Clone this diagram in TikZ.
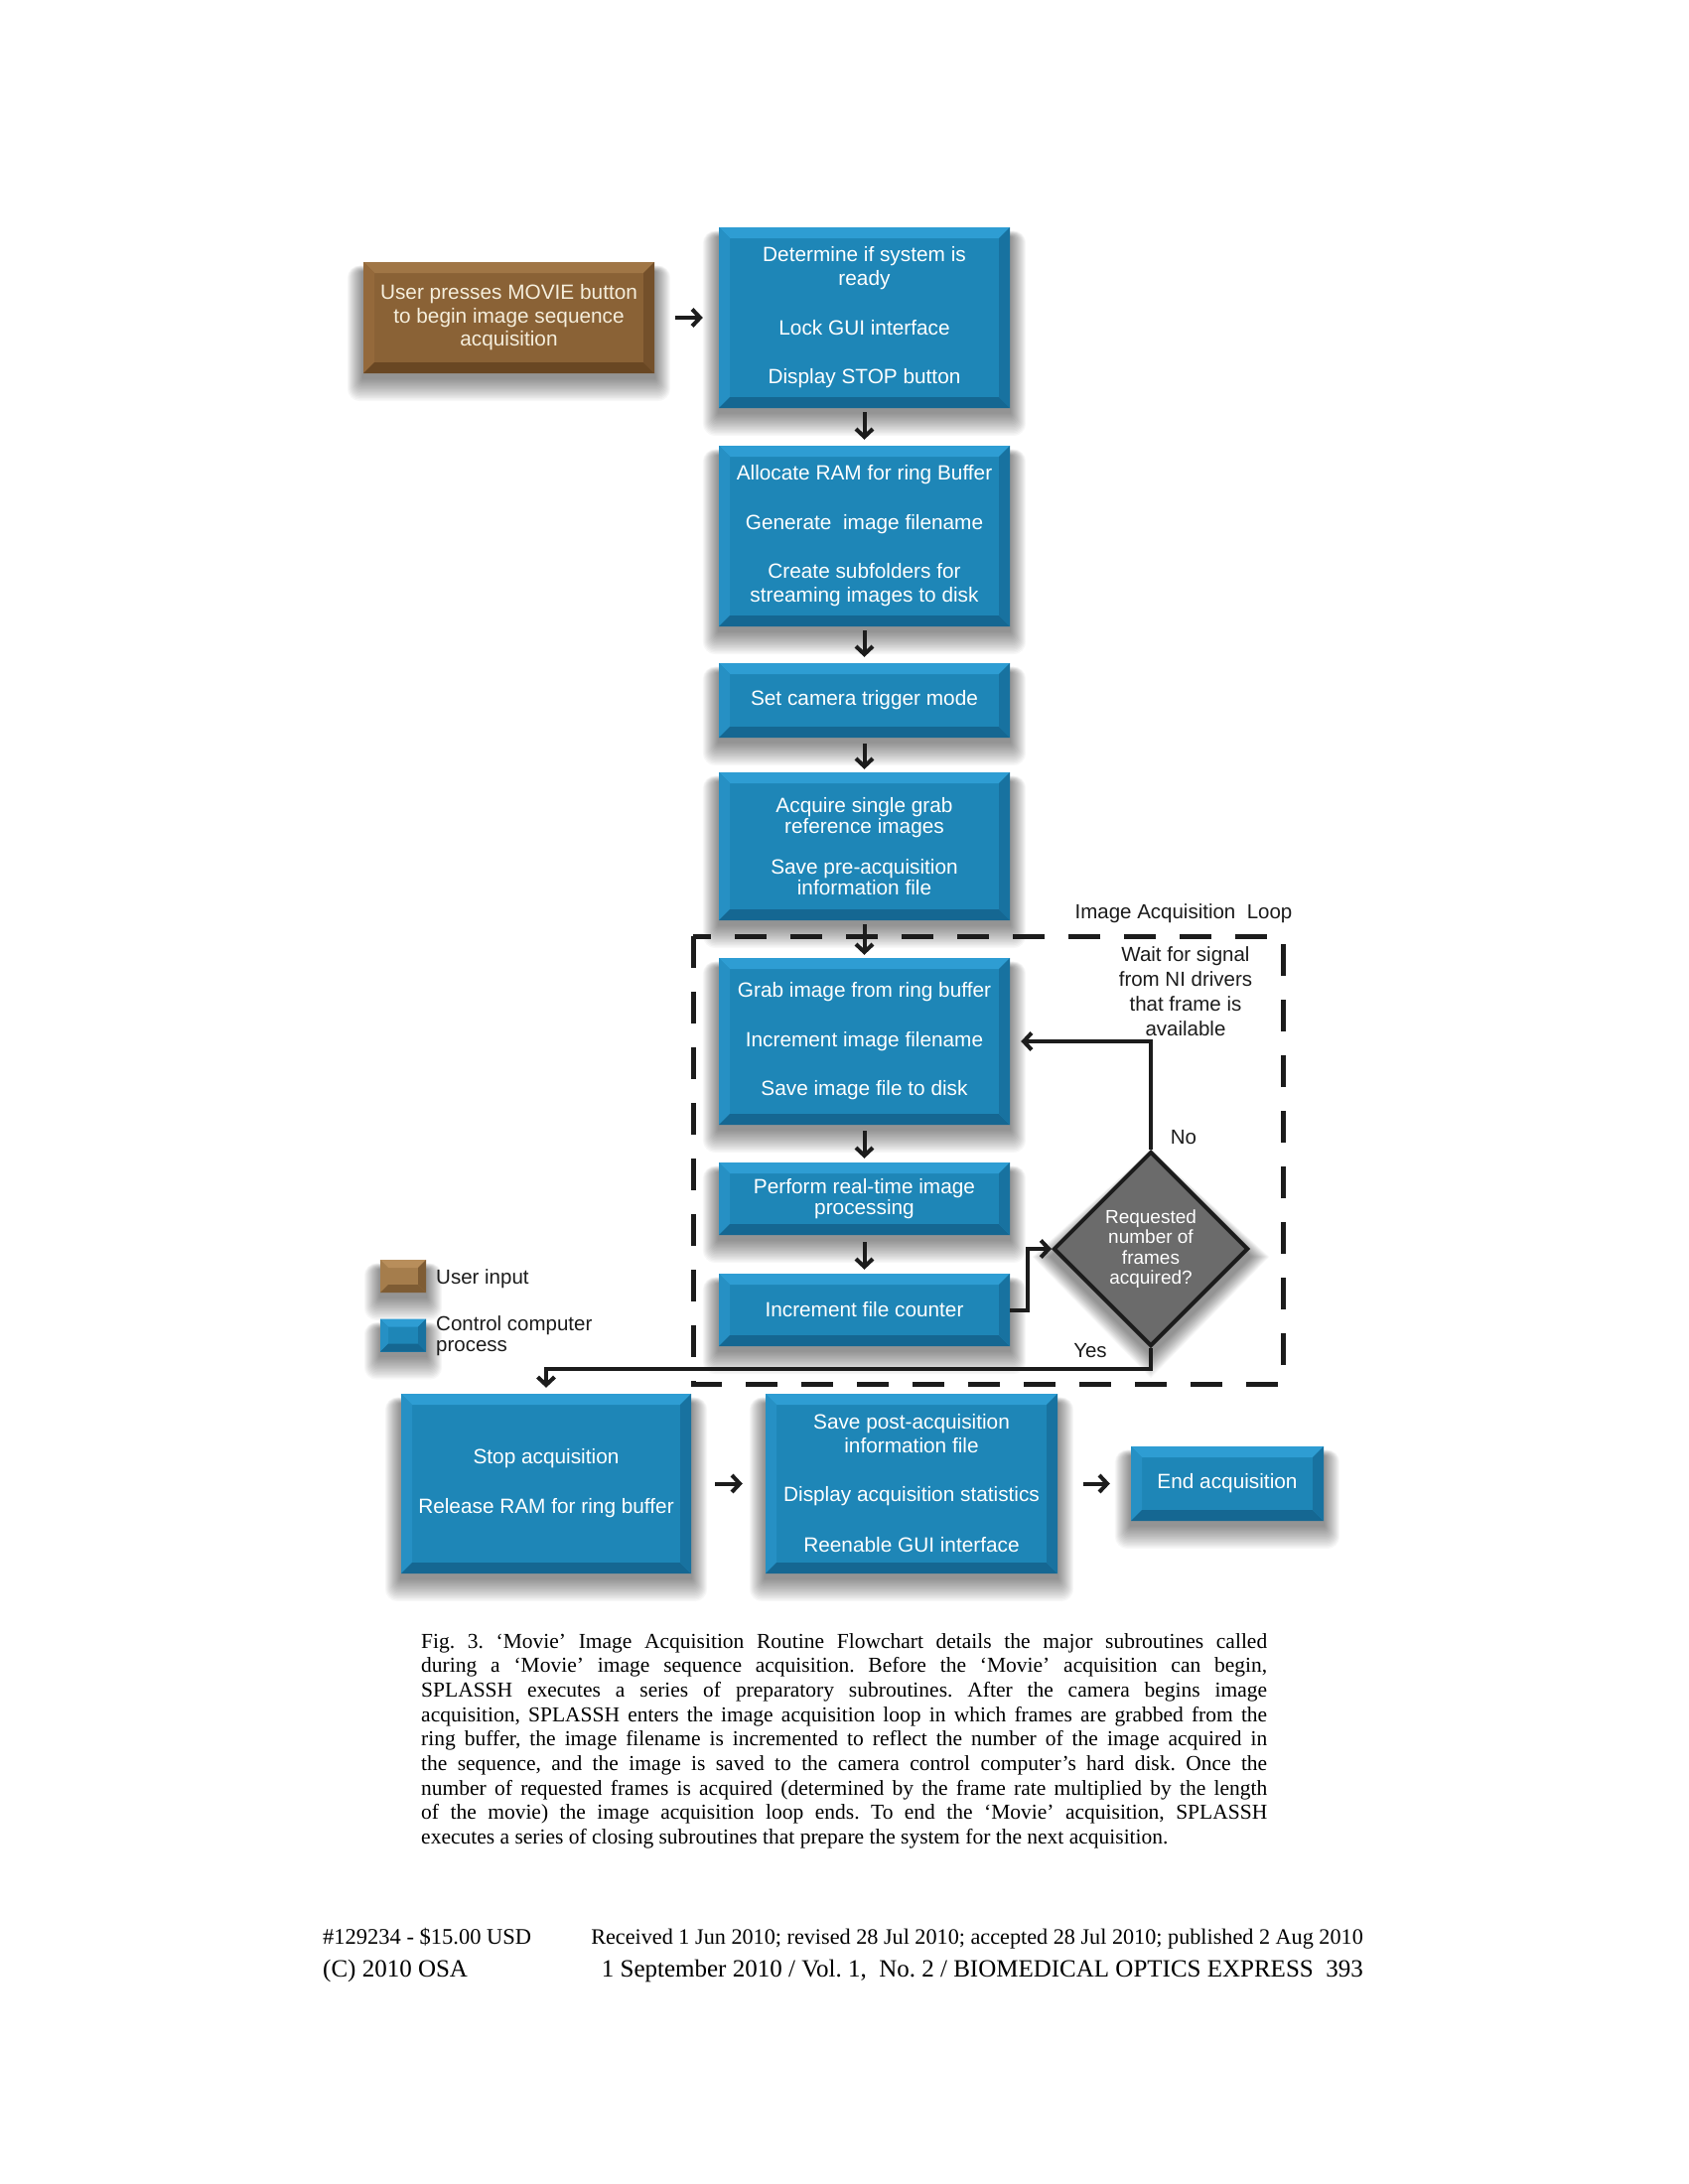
\documentclass[tikz,border=0pt]{standalone}
\usepackage{fontspec}
\setmainfont{Liberation Serif}
\newfontfamily\diafont{Liberation Sans}
\usetikzlibrary{arrows.meta,shapes.geometric,calc}

\pgfdeclarelayer{shadowlayer}
\pgfsetlayers{shadowlayer,main}

% box colours: front face and the four bevel faces
\definecolor{bluefront}{HTML}{1E86B7}
\definecolor{bluetop}{HTML}{2E9DD3}
\definecolor{blueleft}{HTML}{2690C4}
\definecolor{bluebottom}{HTML}{156792}
\definecolor{blueright}{HTML}{1872A0}
\definecolor{brownfront}{HTML}{8A6236}
\definecolor{browntop}{HTML}{A07646}
\definecolor{brownleft}{HTML}{94693B}
\definecolor{brownbottom}{HTML}{694723}
\definecolor{brownright}{HTML}{74502B}
\definecolor{lbrownfront}{HTML}{A57D4C}
\definecolor{lbrowntop}{HTML}{B88E5B}
\definecolor{lbrownbottom}{HTML}{7E5C34}
\definecolor{decgrey}{HTML}{6B6B6B}
\definecolor{ink}{HTML}{1C1C1C}
\definecolor{cream}{HTML}{F5EEDC}

% bevel: width, top, left, bottom, right
\newcommand{\bevelfaces}[5]{%
  \fill[#2] (path picture bounding box.north west) -- (path picture bounding box.north east)
     -- ([xshift=-#1,yshift=-#1]path picture bounding box.north east)
     -- ([xshift=#1,yshift=-#1]path picture bounding box.north west) -- cycle;
  \fill[#3] (path picture bounding box.north west) -- (path picture bounding box.south west)
     -- ([xshift=#1,yshift=#1]path picture bounding box.south west)
     -- ([xshift=#1,yshift=-#1]path picture bounding box.north west) -- cycle;
  \fill[#4] (path picture bounding box.south west) -- (path picture bounding box.south east)
     -- ([xshift=-#1,yshift=#1]path picture bounding box.south east)
     -- ([xshift=#1,yshift=#1]path picture bounding box.south west) -- cycle;
  \fill[#5] (path picture bounding box.north east) -- (path picture bounding box.south east)
     -- ([xshift=-#1,yshift=#1]path picture bounding box.south east)
     -- ([xshift=-#1,yshift=-#1]path picture bounding box.north east) -- cycle;
}

% soft shadow below a rectangular node, built from stacked translucent layers
\newcommand{\softshadow}[1]{%
  \foreach \k in {1,...,16}{%
    \fill[black, opacity=0.03, rounded corners={0.8pt*\k}]
      ([xshift={-1pt*\k}, yshift={-10pt+0.4pt*\k}]#1.north west)
      rectangle ([xshift={1pt*\k}, yshift={-4pt-1.5pt*\k}]#1.south east);
  }}
% the same for the decision diamond
\newcommand{\diamondshadow}[1]{%
  \foreach \k in {1,...,16}{%
    \fill[black, opacity=0.03]
      ([yshift={-8pt+0.5pt*\k}]#1.north) -- ([xshift={1.2pt*\k}, yshift=-8pt]#1.east)
      -- ([yshift={-6pt-1.5pt*\k}]#1.south) -- ([xshift={-1.2pt*\k}, yshift=-8pt]#1.west) -- cycle;
  }}

\tikzset{
  bluebox/.style={fill=bluefront, minimum width=293pt, inner sep=0pt,
      text=white, align=center,
      font=\diafont\fontsize{20.8}{24}\selectfont,
      path picture={\bevelfaces{11pt}{bluetop}{blueleft}{bluebottom}{blueright}}},
  tightbox/.style={bluebox, font=\diafont\fontsize{20.8}{21}\selectfont},
  brownbox/.style={fill=brownfront, minimum width=293pt, inner sep=0pt,
      text=cream, align=center,
      font=\diafont\fontsize{20.8}{23.5}\selectfont,
      path picture={\bevelfaces{11pt}{browntop}{brownleft}{brownbottom}{brownright}}},
  swatchblue/.style={fill=bluefront, minimum width=46pt, minimum height=33pt,
      inner sep=0pt, path picture={\bevelfaces{8pt}{bluetop}{blueleft}{bluebottom}{blueright}}},
  swatchbrown/.style={fill=lbrownfront, minimum width=46pt, minimum height=33pt,
      inner sep=0pt, path picture={\bevelfaces{8pt}{lbrowntop}{lbrownfront}{lbrownbottom}{lbrownbottom}}},
  decision/.style={diamond, aspect=1, minimum width=196pt, minimum height=196pt,
      inner sep=0pt, fill=decgrey, draw=ink, line width=4pt, text=white, align=center,
      font=\diafont\fontsize{19}{20.5}\selectfont},
  lbl/.style={text=ink, inner sep=0pt, font=\diafont\fontsize{20.5}{25}\selectfont, align=center},
  conn/.style={draw=ink, line width=4pt, -{Straight Barb[length=8pt,width=17pt]}},
  loopframe/.style={draw=ink, line width=5pt, dash pattern=on 32pt off 24pt},
}

\begin{document}
\frenchspacing
\begin{tikzpicture}[x=1pt,y=-1pt]
  \useasboundingbox (0,0) rectangle (1700,2200);
  \begin{pgfonlayer}{shadowlayer}
    \fill[white] (0,0) rectangle (1700,2200);
  \end{pgfonlayer}

  % loop frame
  \draw[loopframe] (698,943) rectangle (1292,1394);

  % nodes
  \node[brownbox, minimum height=112pt] (user) at (512.5,320)
    {User presses MOVIE button\\to begin image sequence\\acquisition};
  \node[bluebox, minimum height=182pt] (b1) at (870.5,320)
    {Determine if system is\\ready\\[26pt]Lock GUI interface\\[25pt]Display STOP button};
  \node[bluebox, minimum height=182pt] (b2) at (870.5,540)
    {Allocate RAM for ring Buffer\\[26pt]Generate\ \ image filename\\[25pt]Create subfolders for\\streaming images to disk};
  \node[bluebox, minimum height=75pt] (b3) at (870.5,705.5) {Set camera trigger mode};
  \node[tightbox, minimum height=149pt] (b4) at (870.5,852.5)
    {Acquire single grab\\reference images\\[20pt]Save pre-acquisition\\information file};
  \node[bluebox, minimum height=168pt] (b5) at (870.5,1049)
    {Grab image from ring buffer\\[26pt]Increment image filename\\[25pt]Save image file to disk};
  \node[tightbox, minimum height=73pt] (b6) at (870.5,1207.5)
    {Perform real-time image\\processing};
  \node[bluebox, minimum height=73pt] (b7) at (870.5,1319.5) {Increment file counter};
  \node[decision] (dia) at (1159,1258) {Requested\\number of\\frames\\acquired?};
  \node[bluebox, minimum width=292pt, minimum height=181pt] (b8) at (550,1494.5)
    {Stop acquisition\\[26pt]Release RAM for ring buffer};
  \node[bluebox, minimum width=294pt, minimum height=181pt] (b9) at (918,1494.5)
    {Save post-acquisition\\information file\\[25pt]Display acquisition statistics\\[27pt]Reenable GUI interface};
  \node[bluebox, minimum width=194pt, minimum height=75pt] (b10) at (1236,1494.5) {End acquisition};

  % labels
  \node[lbl] (looptitle) at (1192,920) {Image Acquisition\ \ Loop};
  \node[lbl] (waitnote) at (1194,999) {Wait for signal\\from NI drivers\\that frame is\\available};
  \node[lbl] (nolbl) at (1192,1146) {No};
  \node[lbl] (yeslbl) at (1098,1361) {Yes};

  % legend
  \node[swatchbrown] (sw1) at (406,1285.5) {};
  \node[swatchblue] (sw2) at (406,1345) {};
  \node[lbl, anchor=base west] (lg1) at (439,1293) {User input};
  \node[lbl, anchor=base west, align=left, font=\diafont\fontsize{20.5}{21}\selectfont] (lg2) at (439,1361)
    {Control computer\\process};

  % shadows behind the boxes
  \begin{pgfonlayer}{shadowlayer}
    \foreach \n in {user,b1,b2,b3,b4,b5,b6,b7,b8,b9,b10,sw1,sw2}{\softshadow{\n}}
    \diamondshadow{dia}
  \end{pgfonlayer}

  % connectors
  \draw[conn, shorten <=21pt, shorten >=16pt] (user.east) -- (b1.west);
  \draw[conn, shorten <=4pt, shorten >=6pt] (b1.south) -- (b2.north);
  \draw[conn, shorten <=4pt, shorten >=6pt] (b2.south) -- (b3.north);
  \draw[conn, shorten <=6pt, shorten >=3pt] (b3.south) -- (b4.north);
  \draw[conn, shorten <=4pt, shorten >=3pt] (b4.south) -- (b5.north);
  \draw[conn, shorten <=6pt, shorten >=4pt] (b5.south) -- (b6.north);
  \draw[conn, shorten <=7pt, shorten >=4pt] (b6.south) -- (b7.north);
  \draw[conn] (b7.east) -- ++(18,0) |- (dia.west);
  \draw[conn, shorten >=11pt] (dia.north) |- (b5.east);
  \draw[conn, shorten >=6pt] (dia.south) -- ++(0,21) -| (b8.north);
  \draw[conn, shorten <=24pt, shorten >=23pt] (b8.east) -- (b9.west);
  \draw[conn, shorten <=26pt, shorten >=21pt] (b9.east) -- (b10.west);

  % caption
  \node[anchor=base west, text width=852pt, inner sep=0pt, align=justify,
        font=\fontsize{21.5}{24.7}\selectfont] (caption) at (424,1660)
  {Fig. 3. ‘Movie’ Image Acquisition Routine Flowchart details the major subroutines called\linebreak
   during a ‘Movie’ image sequence acquisition. Before the ‘Movie’ acquisition can begin,\linebreak
   SPLASSH executes a series of preparatory subroutines. After the camera begins image\linebreak
   acquisition, SPLASSH enters the image acquisition loop in which frames are grabbed from the\linebreak
   ring buffer, the image filename is incremented to reflect the number of the image acquired in\linebreak
   the sequence, and the image is saved to the camera control computer’s hard disk. Once the\linebreak
   number of requested frames is acquired (determined by the frame rate multiplied by the length\linebreak
   of the movie) the image acquisition loop ends. To end the ‘Movie’ acquisition, SPLASSH\linebreak
   executes a series of closing subroutines that prepare the system for the next acquisition.};

  % page footer
  \node[anchor=base west, inner sep=0pt, font=\fontsize{22.5}{27}\selectfont] (ftid) at (325,1958)
    {\#129234 - \$15.00 USD};
  \node[anchor=base east, inner sep=0pt, font=\fontsize{22.2}{27}\selectfont] (ftdates) at (1373,1958)
    {Received 1 Jun 2010; revised 28 Jul 2010; accepted 28 Jul 2010; published 2 Aug 2010};
  \node[anchor=base west, inner sep=0pt, font=\fontsize{25}{30}\selectfont] (ftcopy) at (325,1991)
    {(C) 2010 OSA};
  \node[anchor=base east, inner sep=0pt, font=\fontsize{25}{30}\selectfont] (ftjournal) at (1373,1991)
    {1 September 2010 / Vol. 1,\ \ No. 2 / BIOMEDICAL OPTICS EXPRESS\ \ 393};
\end{tikzpicture}
\end{document}
